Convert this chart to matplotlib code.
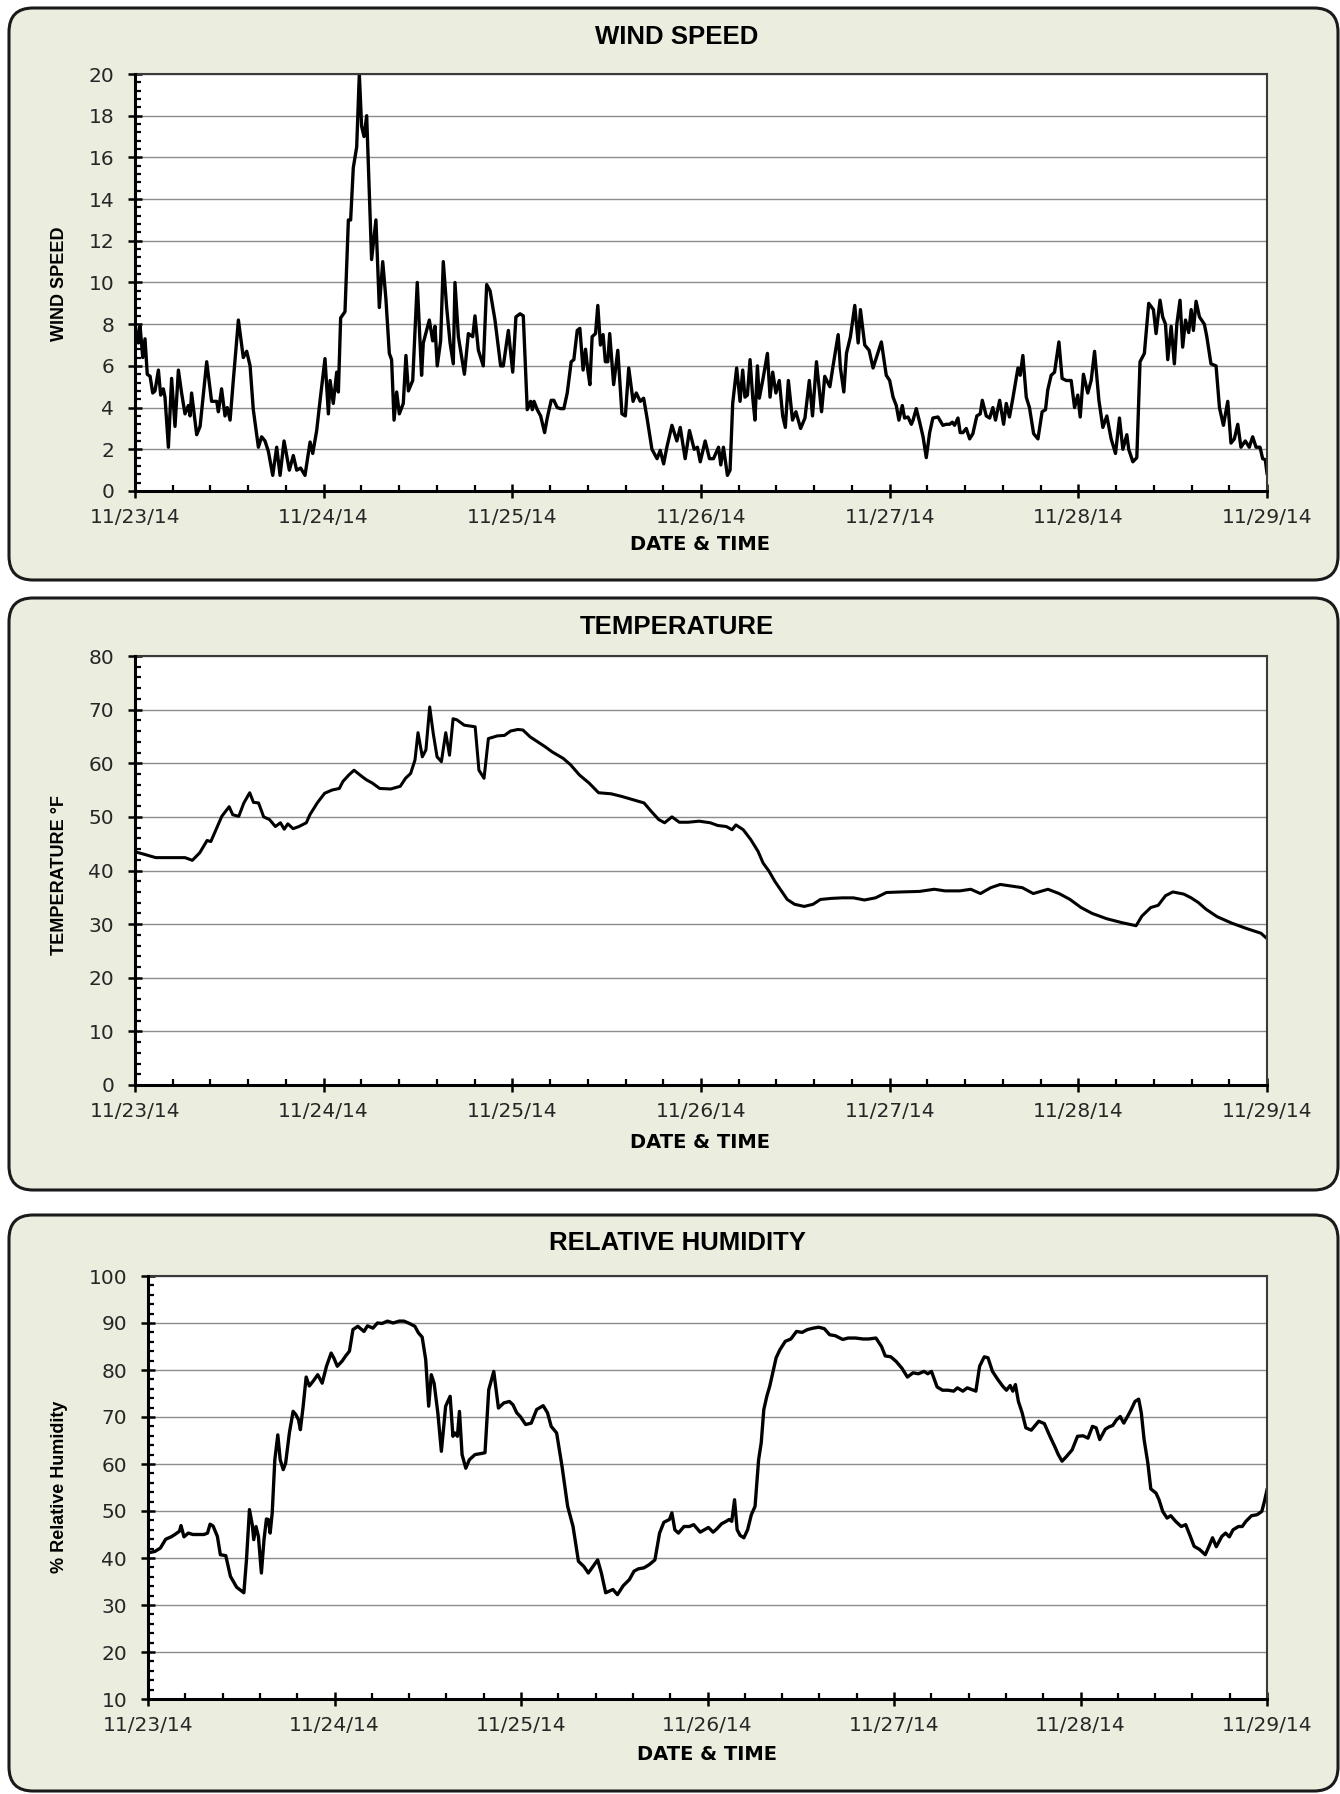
import matplotlib
matplotlib.use("Agg")
import matplotlib.pyplot as plt
from matplotlib.patches import FancyBboxPatch
from matplotlib.ticker import MultipleLocator

# time axis: days since 11/23/14 00:00
date_labels = ['11/23/14', '11/24/14', '11/25/14', '11/26/14',
               '11/27/14', '11/28/14', '11/29/14']

wind_days = [
    0.000, 0.018, 0.027, 0.041, 0.053, 0.065, 0.080, 0.094, 0.106, 0.124,
    0.136, 0.150, 0.159, 0.177, 0.194, 0.212, 0.230, 0.247, 0.265, 0.283,
    0.292, 0.300, 0.327, 0.345, 0.380, 0.406, 0.433, 0.442, 0.459, 0.477,
    0.489, 0.504, 0.521, 0.548, 0.574, 0.592, 0.610, 0.627, 0.654, 0.671,
    0.689, 0.707, 0.730, 0.751, 0.769, 0.790, 0.818, 0.839, 0.857, 0.878,
    0.901, 0.928, 0.942, 0.963, 0.981, 1.007, 1.025, 1.034, 1.051, 1.069,
    1.078, 1.090, 1.113, 1.131, 1.143, 1.157, 1.175, 1.189, 1.201, 1.214,
    1.228, 1.254, 1.277, 1.295, 1.313, 1.330, 1.348, 1.360, 1.373, 1.387,
    1.401, 1.422, 1.436, 1.449, 1.472, 1.496, 1.519, 1.528, 1.560, 1.578,
    1.590, 1.602, 1.620, 1.634, 1.652, 1.670, 1.687, 1.696, 1.714, 1.746,
    1.767, 1.790, 1.802, 1.820, 1.846, 1.864, 1.882, 1.908, 1.938, 1.952,
    1.979, 2.002, 2.019, 2.041, 2.058, 2.079, 2.097, 2.106, 2.115, 2.132,
    2.150, 2.171, 2.185, 2.206, 2.220, 2.238, 2.256, 2.273, 2.291, 2.312,
    2.326, 2.344, 2.358, 2.375, 2.388, 2.400, 2.411, 2.423, 2.441, 2.453,
    2.467, 2.481, 2.493, 2.506, 2.516, 2.537, 2.559, 2.581, 2.599, 2.617,
    2.640, 2.657, 2.678, 2.696, 2.714, 2.740, 2.767, 2.784, 2.802, 2.819,
    2.846, 2.872, 2.890, 2.916, 2.939, 2.964, 2.981, 2.996, 3.022, 3.045,
    3.066, 3.093, 3.105, 3.119, 3.140, 3.154, 3.168, 3.189, 3.207, 3.221,
    3.233, 3.246, 3.260, 3.274, 3.286, 3.299, 3.309, 3.327, 3.352, 3.366,
    3.380, 3.397, 3.415, 3.433, 3.447, 3.463, 3.485, 3.503, 3.528, 3.551,
    3.574, 3.591, 3.612, 3.639, 3.656, 3.683, 3.700, 3.727, 3.739, 3.757,
    3.771, 3.792, 3.815, 3.833, 3.845, 3.868, 3.891, 3.912, 3.956, 3.982,
    4.000, 4.018, 4.035, 4.049, 4.067, 4.079, 4.097, 4.115, 4.124, 4.141,
    4.159, 4.177, 4.194, 4.212, 4.229, 4.256, 4.282, 4.300, 4.318, 4.332,
    4.344, 4.362, 4.374, 4.388, 4.406, 4.424, 4.441, 4.462, 4.480, 4.491,
    4.512, 4.530, 4.547, 4.561, 4.583, 4.604, 4.618, 4.635, 4.653, 4.680,
    4.692, 4.706, 4.724, 4.741, 4.763, 4.786, 4.808, 4.826, 4.838, 4.856,
    4.874, 4.897, 4.914, 4.936, 4.962, 4.980, 4.997, 5.010, 5.027, 5.050,
    5.068, 5.086, 5.109, 5.130, 5.151, 5.174, 5.197, 5.218, 5.236, 5.257,
    5.267, 5.289, 5.310, 5.327, 5.350, 5.373, 5.398, 5.412, 5.433, 5.447,
    5.462, 5.474, 5.492, 5.509, 5.522, 5.539, 5.553, 5.568, 5.585, 5.598,
    5.610, 5.624, 5.642, 5.668, 5.681, 5.703, 5.730, 5.748, 5.769, 5.792,
    5.809, 5.827, 5.845, 5.862, 5.885, 5.906, 5.924, 5.942, 5.963, 5.977,
    5.991, 6.000]
wind_speed = [
    8.0, 7.1, 7.9, 6.4, 7.3, 5.6, 5.5, 4.7, 4.8, 5.8,
    4.6, 4.9, 4.5, 2.1, 5.4, 3.1, 5.8, 4.7, 3.7, 4.1,
    3.6, 4.7, 2.7, 3.1, 6.2, 4.3, 4.3, 3.8, 4.9, 3.6,
    4.0, 3.4, 5.3, 8.2, 6.4, 6.7, 6.0, 3.9, 2.1, 2.6,
    2.4, 1.9, 0.75, 2.1, 0.75, 2.4, 1.0, 1.7, 1.0, 1.1,
    0.75, 2.35, 1.8, 2.9, 4.35, 6.35, 3.7, 5.3, 4.2, 5.7,
    4.75, 8.3, 8.6, 13.0, 13.0, 15.5, 16.5, 20.0, 17.5, 17.0,
    18.0, 11.1, 13.0, 8.8, 11.0, 9.2, 6.6, 6.3, 3.4, 4.75,
    3.7, 4.2, 6.5, 4.8, 5.3, 10.0, 5.55, 7.1, 8.2, 7.2,
    7.9, 6.0, 7.2, 11.0, 8.8, 7.1, 6.1, 10.0, 7.4, 5.6,
    7.55, 7.4, 8.4, 6.75, 6.0, 9.9, 9.6, 8.2, 6.0, 6.0,
    7.7, 5.7, 8.35, 8.5, 8.4, 3.9, 4.3, 3.9, 4.3, 3.9,
    3.6, 2.8, 3.5, 4.35, 4.35, 4.0, 3.95, 3.95, 4.7, 6.2,
    6.3, 7.7, 7.8, 5.8, 6.8, 5.8, 5.1, 7.4, 7.55, 8.9,
    7.0, 7.5, 6.2, 6.2, 7.55, 5.1, 6.75, 3.7, 3.6, 5.9,
    4.3, 4.7, 4.3, 4.45, 3.5, 2.0, 1.55, 1.95, 1.3, 2.1,
    3.15, 2.4, 3.05, 1.55, 2.9, 2.0, 2.1, 1.4, 2.4, 1.55,
    1.55, 2.1, 1.25, 2.1, 0.75, 1.0, 4.2, 5.9, 4.3, 5.8,
    4.5, 4.6, 6.3, 4.5, 3.4, 6.0, 4.45, 5.3, 6.6, 4.5,
    5.7, 4.7, 5.3, 3.6, 3.05, 5.3, 3.4, 3.8, 3.0, 3.5,
    5.3, 3.6, 6.2, 3.8, 5.5, 5.0, 6.0, 7.5, 5.9, 4.75,
    6.6, 7.4, 8.9, 7.1, 8.7, 7.0, 6.75, 5.9, 7.15, 5.55,
    5.3, 4.5, 4.1, 3.4, 4.1, 3.5, 3.55, 3.2, 3.4, 3.95,
    3.3, 2.6, 1.6, 2.8, 3.5, 3.55, 3.15, 3.2, 3.2, 3.3,
    3.15, 3.5, 2.8, 2.8, 3.0, 2.5, 2.75, 3.6, 3.7, 4.35,
    3.6, 3.5, 4.0, 3.4, 4.35, 3.2, 4.2, 3.55, 4.45, 5.9,
    5.55, 6.5, 4.5, 4.0, 2.75, 2.5, 3.8, 3.9, 4.85, 5.55,
    5.7, 7.15, 5.4, 5.3, 5.3, 4.0, 4.6, 3.55, 5.6, 4.7,
    5.3, 6.7, 4.35, 3.05, 3.6, 2.5, 1.8, 3.5, 2.0, 2.7,
    2.0, 1.4, 1.6, 6.2, 6.6, 9.0, 8.7, 7.55, 9.15, 8.35,
    8.0, 6.3, 7.9, 6.1, 8.0, 9.15, 6.9, 8.2, 7.6, 8.7,
    7.7, 9.1, 8.35, 8.0, 7.4, 6.1, 6.0, 4.0, 3.15, 4.3,
    2.3, 2.5, 3.2, 2.1, 2.4, 2.1, 2.6, 2.1, 2.1, 1.55,
    1.5, 0.85]

temp_days = [
    0.000, 0.051, 0.110, 0.160, 0.207, 0.265, 0.304, 0.343, 0.382, 0.402,
    0.433, 0.460, 0.499, 0.518, 0.550, 0.577, 0.608, 0.628, 0.655, 0.682,
    0.713, 0.744, 0.771, 0.791, 0.810, 0.838, 0.869, 0.908, 0.927, 0.966,
    1.005, 1.044, 1.083, 1.102, 1.133, 1.161, 1.200, 1.227, 1.258, 1.297,
    1.355, 1.406, 1.434, 1.461, 1.484, 1.500, 1.523, 1.542, 1.562, 1.581,
    1.601, 1.624, 1.647, 1.667, 1.686, 1.706, 1.745, 1.803, 1.823, 1.850,
    1.873, 1.920, 1.959, 1.990, 2.029, 2.056, 2.095, 2.134, 2.173, 2.212,
    2.270, 2.309, 2.356, 2.407, 2.457, 2.524, 2.581, 2.640, 2.698, 2.737,
    2.776, 2.807, 2.846, 2.885, 2.932, 2.990, 3.049, 3.088, 3.134, 3.165,
    3.185, 3.224, 3.263, 3.302, 3.329, 3.360, 3.391, 3.418, 3.457, 3.496,
    3.547, 3.594, 3.633, 3.691, 3.749, 3.808, 3.866, 3.925, 3.983, 4.061,
    4.158, 4.236, 4.294, 4.372, 4.430, 4.481, 4.536, 4.586, 4.645, 4.703,
    4.761, 4.839, 4.898, 4.956, 5.014, 5.073, 5.151, 5.228, 5.267, 5.306,
    5.337, 5.384, 5.423, 5.462, 5.501, 5.559, 5.598, 5.637, 5.676, 5.735,
    5.812, 5.890, 5.968, 6.000]
temp_f = [
    43.5, 43.0, 42.4, 42.4, 42.4, 42.4, 41.9, 43.3, 45.6, 45.4,
    47.9, 50.1, 51.9, 50.4, 50.1, 52.6, 54.5, 52.7, 52.6, 50.0,
    49.5, 48.2, 48.9, 47.7, 48.7, 47.8, 48.2, 48.9, 50.4, 52.6,
    54.4, 55.0, 55.3, 56.6, 57.8, 58.7, 57.6, 56.9, 56.3, 55.3,
    55.2, 55.7, 57.2, 58.1, 60.6, 65.7, 61.2, 62.5, 70.5, 65.5,
    61.2, 60.3, 65.7, 61.5, 68.3, 68.1, 67.1, 66.8, 58.7, 57.2,
    64.6, 65.1, 65.2, 66.0, 66.3, 66.2, 64.9, 64.0, 63.1, 62.1,
    60.9, 59.7, 57.8, 56.3, 54.5, 54.3, 53.8, 53.2, 52.6, 51.0,
    49.5, 48.9, 50.0, 49.0, 49.0, 49.2, 48.9, 48.4, 48.2, 47.6,
    48.5, 47.6, 45.8, 43.6, 41.4, 39.9, 38.0, 36.6, 34.6, 33.7,
    33.3, 33.7, 34.6, 34.8, 34.9, 34.9, 34.5, 34.9, 35.9, 36.0,
    36.1, 36.5, 36.2, 36.2, 36.5, 35.7, 36.8, 37.4, 37.1, 36.8,
    35.7, 36.5, 35.7, 34.6, 33.1, 32.0, 31.0, 30.3, 30.0, 29.7,
    31.5, 33.1, 33.5, 35.3, 36.0, 35.6, 34.9, 34.0, 32.8, 31.4,
    30.2, 29.2, 28.3, 27.3]

rh_days = [
    0.000, 0.037, 0.066, 0.095, 0.124, 0.144, 0.169, 0.177, 0.193, 0.216,
    0.241, 0.271, 0.300, 0.319, 0.333, 0.349, 0.372, 0.388, 0.417, 0.442,
    0.475, 0.514, 0.528, 0.544, 0.559, 0.567, 0.579, 0.592, 0.608, 0.622,
    0.635, 0.645, 0.655, 0.666, 0.680, 0.696, 0.709, 0.725, 0.738, 0.758,
    0.778, 0.793, 0.807, 0.817, 0.832, 0.848, 0.865, 0.885, 0.910, 0.934,
    0.957, 0.982, 0.996, 1.015, 1.041, 1.060, 1.080, 1.099, 1.125, 1.158,
    1.177, 1.206, 1.230, 1.255, 1.284, 1.314, 1.347, 1.372, 1.402, 1.431,
    1.450, 1.470, 1.489, 1.505, 1.519, 1.534, 1.554, 1.573, 1.596, 1.620,
    1.635, 1.645, 1.659, 1.670, 1.684, 1.704, 1.723, 1.753, 1.782, 1.807,
    1.827, 1.854, 1.879, 1.908, 1.938, 1.957, 1.977, 1.996, 2.025, 2.055,
    2.084, 2.119, 2.142, 2.162, 2.191, 2.220, 2.250, 2.279, 2.308, 2.337,
    2.361, 2.386, 2.411, 2.431, 2.454, 2.493, 2.517, 2.548, 2.581, 2.606,
    2.630, 2.659, 2.688, 2.718, 2.743, 2.766, 2.796, 2.809, 2.825, 2.844,
    2.874, 2.903, 2.926, 2.961, 3.005, 3.030, 3.050, 3.076, 3.100, 3.116,
    3.130, 3.145, 3.159, 3.175, 3.195, 3.215, 3.235, 3.255, 3.274, 3.288,
    3.302, 3.318, 3.334, 3.354, 3.368, 3.388, 3.417, 3.447, 3.477, 3.507,
    3.536, 3.566, 3.596, 3.626, 3.655, 3.685, 3.725, 3.754, 3.794, 3.834,
    3.864, 3.903, 3.933, 3.953, 3.983, 4.012, 4.042, 4.072, 4.102, 4.131,
    4.161, 4.181, 4.201, 4.231, 4.260, 4.290, 4.320, 4.340, 4.369, 4.393,
    4.419, 4.439, 4.459, 4.484, 4.504, 4.528, 4.558, 4.584, 4.603, 4.623,
    4.637, 4.651, 4.667, 4.687, 4.707, 4.736, 4.776, 4.806, 4.836, 4.861,
    4.881, 4.901, 4.925, 4.955, 4.984, 5.014, 5.040, 5.064, 5.084, 5.103,
    5.133, 5.153, 5.173, 5.193, 5.213, 5.232, 5.252, 5.272, 5.292, 5.312,
    5.326, 5.341, 5.361, 5.377, 5.405, 5.421, 5.441, 5.464, 5.484, 5.510,
    5.540, 5.564, 5.589, 5.609, 5.639, 5.669, 5.689, 5.708, 5.728, 5.758,
    5.778, 5.798, 5.818, 5.847, 5.867, 5.887, 5.917, 5.946, 5.972, 5.986,
    6.000]
rh_pct = [
    41.1, 41.4, 42.1, 44.0, 44.5, 45.0, 45.7, 46.9, 44.5, 45.3,
    45.0, 45.0, 45.0, 45.3, 47.2, 46.8, 44.6, 40.7, 40.5, 36.1,
    33.8, 32.6, 39.6, 50.3, 47.1, 43.9, 46.7, 44.6, 36.8, 43.9,
    48.3, 48.2, 45.3, 49.6, 60.9, 66.2, 60.9, 58.8, 60.2, 66.6,
    71.2, 70.5, 69.4, 67.3, 72.3, 78.5, 76.6, 77.6, 79.0, 77.2,
    80.8, 83.6, 82.6, 80.8, 81.9, 83.0, 84.0, 88.6, 89.3, 88.2,
    89.4, 88.9, 90.0, 89.9, 90.4, 90.0, 90.4, 90.4, 89.9, 89.3,
    87.9, 87.0, 82.2, 72.3, 79.0, 77.2, 70.9, 62.7, 72.3, 74.4,
    65.9, 66.6, 65.9, 71.2, 62.0, 59.1, 60.9, 62.0, 62.2, 62.4,
    75.8, 79.7, 71.9, 73.0, 73.3, 72.6, 70.9, 70.1, 68.4, 68.7,
    71.6, 72.4, 70.9, 68.0, 66.6, 59.5, 51.0, 46.7, 39.3, 38.2,
    36.8, 38.2, 39.6, 36.8, 32.6, 33.3, 32.2, 34.1, 35.4, 37.2,
    37.7, 37.9, 38.6, 39.6, 45.3, 47.6, 48.2, 49.6, 46.0, 45.3,
    46.7, 46.7, 47.1, 45.5, 46.5, 45.5, 46.2, 47.3, 47.8, 48.2,
    47.8, 52.4, 46.0, 44.8, 44.3, 46.0, 49.2, 51.0, 60.9, 64.5,
    71.6, 74.4, 76.6, 80.1, 82.6, 84.3, 86.1, 86.6, 88.2, 88.0,
    88.6, 88.9, 89.1, 88.8, 87.5, 87.3, 86.5, 86.8, 86.8, 86.6,
    86.6, 86.8, 85.0, 83.0, 82.8, 81.8, 80.4, 78.5, 79.4, 79.2,
    79.7, 79.2, 79.7, 76.4, 75.7, 75.7, 75.5, 76.2, 75.5, 76.2,
    75.8, 75.5, 80.8, 82.8, 82.6, 79.7, 77.9, 76.5, 75.7, 76.7,
    75.5, 76.9, 73.3, 70.9, 67.7, 67.2, 69.1, 68.6, 65.9, 63.8,
    62.0, 60.6, 61.6, 63.0, 65.9, 66.0, 65.5, 68.0, 67.7, 65.2,
    67.4, 67.9, 68.2, 69.4, 70.1, 68.7, 70.1, 71.6, 73.3, 73.8,
    70.9, 65.2, 60.2, 54.7, 53.8, 52.4, 49.9, 48.5, 49.0, 47.8,
    46.7, 47.1, 44.6, 42.5, 41.8, 40.7, 42.5, 44.3, 42.4, 44.6,
    45.3, 44.5, 46.0, 46.7, 46.7, 47.8, 49.0, 49.2, 49.9, 52.0,
    54.5]

W, H = 1340, 1794
fig = plt.figure(figsize=(W / 100, H / 100), dpi=100)
fig.patch.set_facecolor('white')

PANEL_BG = '#EBEDDE'
TICK_FONT = 'DejaVu Sans'


def panel(y0, y1):
    # rounded background box, pixel coords from the top-left
    box = FancyBboxPatch((9 / 100, (H - y1) / 100), (1338 - 9) / 100, (y1 - y0) / 100,
                         boxstyle='round,pad=0,rounding_size=0.24',
                         transform=fig.dpi_scale_trans, facecolor=PANEL_BG,
                         edgecolor='#1a1a1a', linewidth=2.2, zorder=-5)
    fig.add_artist(box)


def make_axes(x0, y0, x1, y1):
    return fig.add_axes([x0 / W, 1 - y1 / H, (x1 - x0) / W, (y1 - y0) / H])


def style(ax, ymin, ymax, ymajor, yminor):
    ax.set_xlim(0, 6)
    ax.set_ylim(ymin, ymax)
    ax.set_xticks(range(len(date_labels)))
    ax.set_xticklabels(date_labels)
    ax.xaxis.set_minor_locator(MultipleLocator(0.2))
    ax.yaxis.set_major_locator(MultipleLocator(ymajor))
    ax.yaxis.set_minor_locator(MultipleLocator(yminor))
    ax.grid(axis='y', which='major', color='#8c8c8c', linewidth=1.0)
    ax.set_axisbelow(True)
    for s in ['left', 'bottom']:
        ax.spines[s].set_linewidth(2.2)
        ax.spines[s].set_color('black')
        ax.spines[s].set_zorder(3)
    for s in ['top', 'right']:
        ax.spines[s].set_linewidth(1.5)
        ax.spines[s].set_color('#3a3a3a')
    ax.tick_params(which='major', direction='inout', length=10, width=1.8,
                   colors='black', labelcolor='#262626', labelsize=14.5)
    ax.tick_params(which='minor', direction='in', length=4.5, width=1.6, colors='black')
    ax.tick_params(axis='y', which='major', pad=10)
    ax.tick_params(axis='x', which='major', pad=7)
    for lab in ax.get_xticklabels() + ax.get_yticklabels():
        lab.set_family(TICK_FONT)


def titles(title, ylabel, ty, ly, xl_x, xl_y):
    fig.text(677 / W, 1 - ty / H, title, ha='center', va='center',
             family='Liberation Sans', fontweight='bold', fontsize=18.5, color='black')
    fig.text(60 / W, 1 - ly / H, ylabel, ha='center', va='center', rotation=90,
             family='Liberation Sans', fontweight='bold',
             fontsize=13, color='black')
    fig.text(xl_x / W, 1 - xl_y / H, 'DATE & TIME', ha='center', va='center',
             family='DejaVu Sans', fontweight='bold', fontsize=14, color='black')


# 1. Wind speed
panel(8, 580)
ax1 = make_axes(135, 74, 1267, 491)
ax1.plot(wind_days, wind_speed, color='black', linewidth=2.4, zorder=2)
style(ax1, 0, 20, 2, 0.4)
titles('WIND SPEED', 'WIND SPEED', 37, 284, 700, 545)

# 2. Temperature
panel(598, 1190)
ax2 = make_axes(135, 656, 1267, 1085)
ax2.plot(temp_days, temp_f, color='black', linewidth=2.2, zorder=2)
style(ax2, 0, 80, 10, 2)
titles('TEMPERATURE', 'TEMPERATURE °F', 627, 875, 700, 1142)

# 3. Relative humidity
panel(1215, 1791)
ax3 = make_axes(148, 1276, 1267, 1699)
ax3.plot(rh_days, rh_pct, color='black', linewidth=2.4, zorder=2)
style(ax3, 10, 100, 10, 2)
titles('RELATIVE HUMIDITY', '% Relative Humidity', 1243, 1487, 707, 1754)

fig.savefig('out.png', dpi=100)
